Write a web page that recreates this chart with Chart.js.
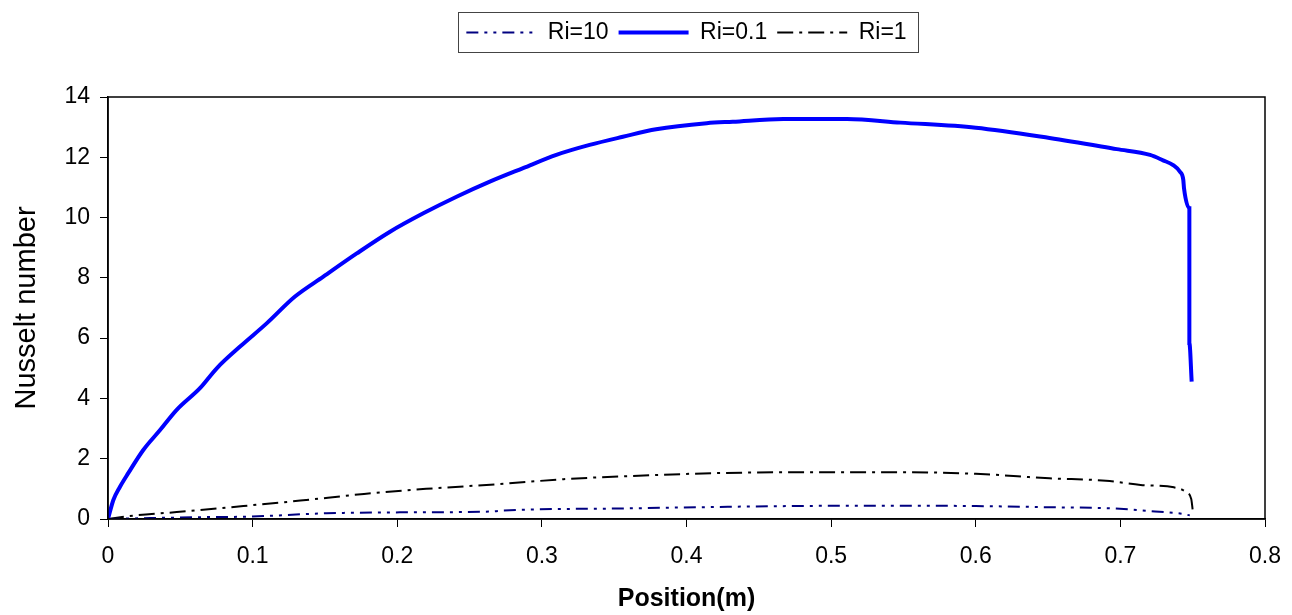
<!DOCTYPE html>
<html>
<head>
<meta charset="utf-8">
<script src="https://cdn.jsdelivr.net/npm/chart.js@4/dist/chart.umd.min.js"></script>
<style>
  html, body { margin: 0; padding: 0; background: #fff; }
  #wrap { width: 1292px; height: 615px; }
</style>
</head>
<body>
<div id="wrap"><canvas id="chart"></canvas></div>
<script>
// Ri=10
const ri10X = [0, 0.029, 0.064, 0.098, 0.151, 0.202, 0.266, 0.273, 0.355, 0.474, 0.55, 0.6, 0.651, 0.695, 0.727, 0.743, 0.748];
const ri10Y = [0, 0.03, 0.06, 0.08, 0.19, 0.22, 0.25, 0.28, 0.35, 0.43, 0.44, 0.43, 0.39, 0.35, 0.24, 0.17, 0.12];

// Ri=0.1
const ri01X = [0, 0.0037, 0.0083, 0.014, 0.0244, 0.036, 0.0475, 0.0636, 0.0752, 0.0913, 0.1097, 0.1293, 0.1489, 0.172, 0.195, 0.218, 0.241, 0.264, 0.287, 0.31, 0.333, 0.356, 0.379, 0.414, 0.432, 0.467, 0.511, 0.548, 0.6, 0.651, 0.6975, 0.7205, 0.7295, 0.7365, 0.7412, 0.7435, 0.744, 0.7477, 0.7477, 0.7493];
const ri01Y = [0, 0.63, 1.07, 1.52, 2.29, 2.95, 3.62, 4.34, 5.0, 5.72, 6.49, 7.38, 8.04, 8.81, 9.53, 10.14, 10.69, 11.19, 11.64, 12.08, 12.41, 12.68, 12.93, 13.13, 13.18, 13.27, 13.27, 13.15, 12.98, 12.64, 12.27, 12.08, 11.9, 11.74, 11.52, 11.25, 10.97, 10.31, 5.84, 4.56];

// Ri=1
const ri1X = [0, 0.015, 0.0475, 0.0936, 0.133, 0.177, 0.22, 0.271, 0.315, 0.363, 0.419, 0.478, 0.55, 0.6, 0.651, 0.69, 0.714, 0.737, 0.745, 0.749, 0.75];
const ri1Y = [0, 0.1, 0.23, 0.43, 0.61, 0.83, 1.0, 1.16, 1.32, 1.43, 1.52, 1.55, 1.55, 1.5, 1.35, 1.27, 1.13, 1.05, 0.91, 0.66, 0.3];

const seriesNames = ["Ri=10", "Ri=0.1", "Ri=1"];
const xTitle = "Position(m)";
const yTitle = "Nusselt number";

function toPoints(xs, ys) {
  return xs.map((x, i) => ({ x: x, y: ys[i] }));
}

// box round the plot area and round the legend
const frames = {
  id: "frames",
  afterDraw(chart) {
    const ctx = chart.ctx;
    const a = chart.chartArea;
    ctx.save();
    ctx.strokeStyle = "#000";
    ctx.lineWidth = 1.5;
    ctx.strokeRect(a.left, a.top, a.right - a.left, a.bottom - a.top);
    const boxes = chart.legend.legendHitBoxes;
    if (boxes && boxes.length) {
      const first = boxes[0];
      const last = boxes[boxes.length - 1];
      ctx.lineWidth = 1;
      ctx.strokeStyle = "#444";
      ctx.strokeRect(Math.round(first.left - 8) + 0.5, 12.5, Math.round(last.left + last.width - first.left + 20), 40);
    }
    ctx.restore();
  },
};

Chart.defaults.font.family = "'Liberation Sans', Arial, sans-serif";
Chart.defaults.color = "#000";

new Chart(document.getElementById("chart"), {
  type: "line",
  data: {
    datasets: [
      {
        label: seriesNames[0],
        data: toPoints(ri10X, ri10Y),
        borderColor: "#000080",
        backgroundColor: "#000080",
        borderWidth: 2,
        borderDash: [12, 6, 3, 6, 3, 6],
        pointRadius: 0,
        fill: false,
      },
      {
        label: seriesNames[1],
        data: toPoints(ri01X, ri01Y),
        borderColor: "#0000ff",
        backgroundColor: "#0000ff",
        borderWidth: 4,
        pointRadius: 0,
        fill: false,
      },
      {
        label: seriesNames[2],
        data: toPoints(ri1X, ri1Y),
        borderColor: "#000",
        backgroundColor: "#000",
        borderWidth: 2,
        borderDash: [16, 6, 3, 6],
        pointRadius: 0,
        fill: false,
      },
    ],
  },
  options: {
    responsive: true,
    maintainAspectRatio: false,
    animation: false,
    cubicInterpolationMode: "monotone",
    layout: { padding: { top: 11, right: 27, left: 0, bottom: 0 } },
    plugins: {
      tooltip: { enabled: false },
      legend: {
        position: "top",
        fullSize: false,
        labels: {
          usePointStyle: true,
          pointStyle: "line",
          pointStyleWidth: 70,
          padding: 10,
          font: { size: 23, lineHeight: 1 },
          generateLabels(chart) {
            const items = Chart.defaults.plugins.legend.labels.generateLabels(chart);
            items.forEach((item) => {
              const ds = chart.data.datasets[item.datasetIndex];
              item.lineDash = ds.borderDash || [];
              item.lineWidth = ds.borderWidth;
              item.strokeStyle = ds.borderColor;
            });
            return items;
          },
        },
      },
      // empty title used as a spacer under the legend
      title: {
        display: true,
        text: "",
        position: "top",
        fullSize: false,
        weight: 500,
        font: { size: 10, lineHeight: 1 },
        padding: { top: 0, bottom: 33 },
      },
    },
    scales: {
      x: {
        type: "linear",
        min: 0,
        max: 0.8,
        ticks: { stepSize: 0.1, font: { size: 23 }, padding: 16 },
        grid: { drawOnChartArea: false, drawTicks: true, tickLength: 8, color: "#000" },
        border: { color: "#000", width: 1.5 },
        title: { display: true, text: xTitle, font: { size: 25, weight: "bold" }, padding: { top: 0, bottom: 1 } },
        afterFit(scale) {
          scale.height = 96;
          scale.paddingRight = 0;
          scale.paddingLeft = 0;
        },
      },
      y: {
        min: 0,
        max: 14,
        ticks: { stepSize: 2, font: { size: 23 }, padding: 10 },
        grid: { drawOnChartArea: false, drawTicks: true, tickLength: 8, color: "#000" },
        border: { color: "#000", width: 1.5 },
        title: { display: true, text: yTitle, font: { size: 29 }, padding: { top: 10, bottom: 0 } },
        afterFit(scale) { scale.width = 108; },
      },
    },
  },
  plugins: [frames],
});
</script>
</body>
</html>
